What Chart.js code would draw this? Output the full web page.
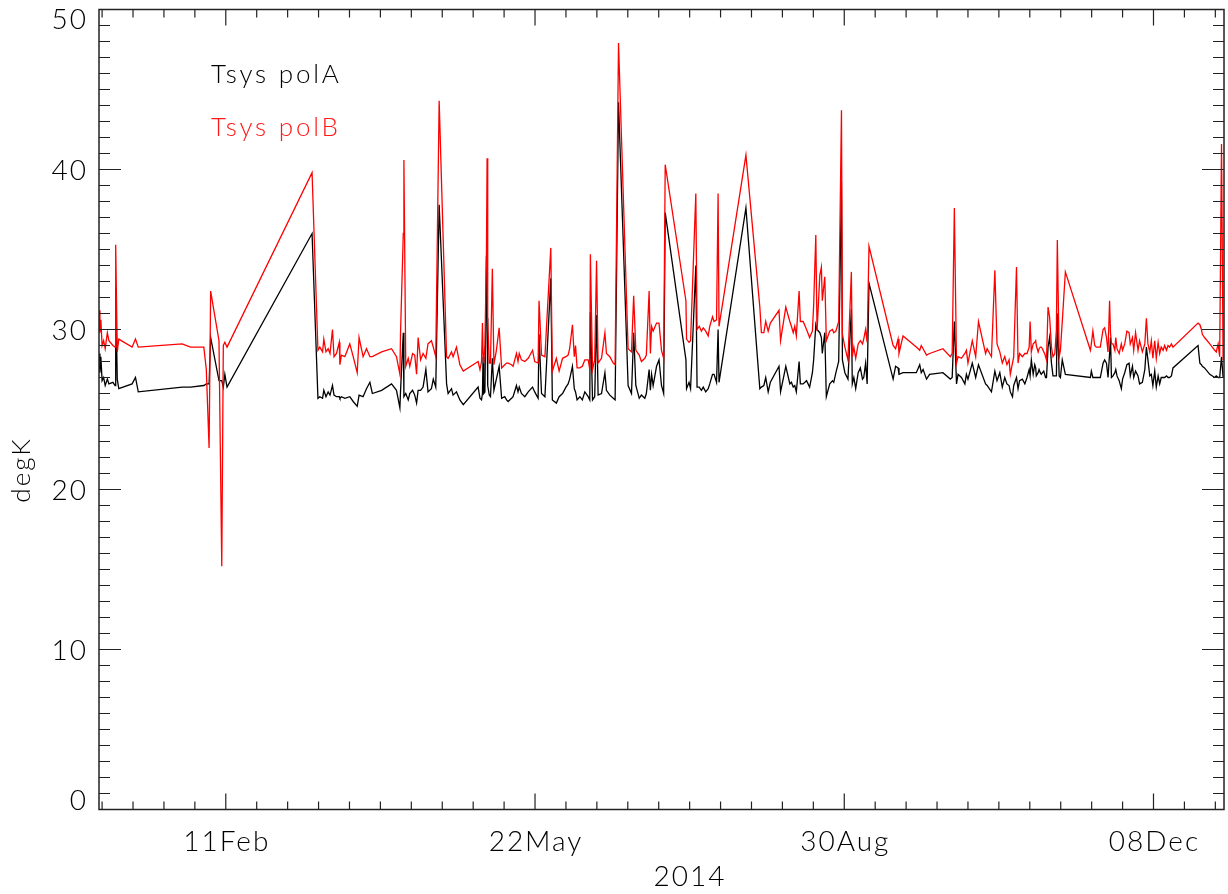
<!DOCTYPE html>
<html>
<head>
<meta charset="utf-8">
<script src="https://cdn.jsdelivr.net/npm/chart.js@4.4.1/dist/chart.umd.min.js"></script>
<style>
  body { margin: 0; background: #fff; }
  #wrap { width: 1228px; height: 894px; }
</style>
</head>
<body>
<div id="wrap"><canvas id="canvas"></canvas></div>
<script>
// day of year 2014 (1 = 01 Jan)
var days = [1.0,1.3,1.6,2.0,2.5,3.0,3.7,4.2,5.5,6.2,6.4,6.9,7.4,11.7,12.8,13.7,27.9,30.6,34.9,35.7,36.6,37.1,39.8,40.7,41.2,41.7,42.4,69.9,71.8,
  72.4,73.3,73.7,74.4,75.1,75.7,76.5,77.0,77.8,78.7,78.9,79.4,80.5,82.1,83.2,84.5,85.1,86.4,87.5,88.6,89.4,92.4,95.6,97.2,98.3,98.5,99.4,99.6,
  100.2,101.0,101.5,102.4,103.1,103.7,104.2,105.0,105.8,106.7,107.4,108.5,109.1,109.9,111.0,113.4,113.9,115.0,115.5,116.6,117.7,118.8,123.6,
  124.2,124.7,125.0,125.2,125.4,125.8,126.3,126.5,126.7,127.2,127.6,128.2,128.7,129.5,130.4,131.2,132.2,132.8,133.3,134.4,134.9,136.0,136.5,136.9,
  137.6,138.7,139.8,141.2,141.9,143.0,143.3,144.1,145.2,147.1,147.6,148.9,149.8,150.9,152.0,152.7,153.2,154.1,154.7,155.1,155.6,156.5,157.3,158.1,
  159.2,159.7,159.9,160.6,161.3,161.9,162.4,163.5,164.6,165.1,166.2,167.3,167.9,169.0,172.1,173.2,173.9,174.6,175.7,176.4,177.5,178.0,178.9,179.3,
  179.7,180.2,181.3,182.1,182.9,183.6,184.1,190.8,191.0,191.8,192.3,194.0,194.4,195.1,195.8,196.4,197.2,198.0,198.5,199.4,199.9,200.7,201.2,201.5,
  210.2,214.7,215.2,216.0,216.6,217.4,218.1,220.9,221.4,223.1,224.4,224.9,225.5,226.0,226.5,227.4,227.8,228.7,229.8,230.8,231.7,232.1,232.8,233.2,
  234.1,234.6,234.9,235.7,236.2,237.3,238.2,238.6,239.3,240.2,241.1,241.4,242.2,243.2,244.3,244.6,245.1,245.7,246.5,247.2,247.9,248.3,248.9,249.4,
  250.0,257.8,258.6,259.4,259.7,261.0,265.3,266.4,266.9,267.5,268.6,269.6,273.9,276.3,276.9,277.6,278.3,278.8,279.9,281.0,281.5,282.0,283.4,284.5,
  285.4,287.7,288.2,289.6,290.7,291.4,292.3,293.1,293.9,294.6,295.3,295.7,296.4,296.8,297.7,298.2,298.7,299.6,300.4,301.1,301.8,302.1,302.5,303.1,
  303.6,303.9,304.1,304.7,305.0,305.4,305.7,306.1,306.5,306.8,307.1,307.4,307.9,308.4,309.0,309.5,310.1,310.6,310.9,311.5,311.9,312.5,313.5,321.6,
  321.9,322.4,323.0,323.5,324.8,325.7,326.2,326.8,327.3,327.8,328.1,328.4,328.9,329.5,329.8,330.2,330.9,331.6,332.0,332.7,333.4,334.1,334.5,335.2,
  335.6,336.2,337.0,337.5,338.4,339.2,339.7,340.2,340.8,341.3,341.8,342.4,342.9,343.5,344.0,344.5,345.1,345.6,346.2,346.7,347.2,347.8,348.3,356.4,
  357.0,357.5,357.8,358.5,360.2,361.8,362.3,362.9,363.4,364.0,364.5];

var polA = [28.5,27.3,28.3,26.8,27.0,26.5,26.9,26.6,26.7,26.5,32.6,26.9,26.3,26.6,27.0,26.1,26.4,26.4,26.5,26.6,26.6,29.5,26.8,26.8,26.4,27.2,26.4,36.0,25.7,
  25.8,25.7,26.2,25.8,26.1,25.9,26.5,25.9,25.8,25.8,25.7,25.8,25.7,25.8,25.5,25.2,25.9,25.8,26.3,26.7,26.0,26.2,26.6,26.2,25.1,26.1,29.8,25.8,
  26.0,25.6,26.0,26.2,25.9,25.4,26.2,26.2,26.4,27.5,26.1,26.3,26.9,26.4,37.8,26.6,26.0,26.3,25.9,26.1,25.6,25.3,26.4,
  25.7,25.6,26.0,28.3,26.0,26.1,34.6,30.7,26.5,25.9,25.8,28.2,26.2,26.9,27.7,25.7,25.8,25.6,25.5,25.7,25.8,26.5,26.1,26.4,
  26.0,25.8,26.1,26.4,26.1,25.7,29.7,26.0,25.8,33.2,25.6,25.4,25.8,26.0,26.4,26.6,26.9,27.7,26.3,26.1,25.6,25.8,25.6,26.1,
  25.8,25.6,31.1,25.6,25.8,30.9,25.9,26.0,27.3,26.2,25.9,25.7,25.6,44.2,26.5,26.0,29.8,26.5,25.7,25.9,25.7,26.0,27.5,26.2,
  27.2,26.5,27.7,28.1,26.5,26.0,37.3,28.1,26.3,26.7,26.3,34.0,26.4,26.4,26.2,26.4,26.1,26.3,26.6,27.2,27.2,26.7,30.0,26.7,
  37.6,26.3,26.4,26.5,27.0,26.1,26.7,27.7,26.1,27.7,26.6,26.7,26.4,26.5,26.1,28.0,26.6,26.6,26.8,26.4,27.3,28.1,30.3,30.0,
  29.8,29.5,28.5,29.8,25.8,26.6,26.8,26.7,27.3,28.0,39.2,28.1,27.3,26.9,31.3,26.6,27.0,26.3,27.3,27.6,26.9,27.0,27.9,26.6,
  32.9,26.9,27.7,27.6,27.2,27.3,27.3,27.8,27.3,27.5,26.9,27.2,27.3,26.9,27.0,30.5,26.6,27.2,27.0,26.6,27.2,26.9,27.9,27.0,
  27.8,26.6,26.5,26.1,27.4,26.8,27.3,26.4,27.0,26.6,26.5,26.1,25.8,26.5,27.0,26.3,26.8,26.9,26.6,27.0,27.5,27.1,28.1,27.2,
  27.8,27.6,27.1,27.3,27.5,27.3,27.2,27.3,27.4,27.2,27.0,27.0,28.9,29.5,27.9,27.1,27.1,27.1,31.0,27.1,27.0,28.1,27.2,27.0,
  27.4,27.0,27.0,27.0,27.0,27.9,28.1,27.9,27.0,28.5,29.5,27.0,27.1,27.3,27.5,27.1,26.8,26.3,26.9,27.3,27.8,27.9,27.1,27.7,
  27.0,27.4,27.1,26.6,26.7,27.5,28.9,28.1,27.1,27.2,26.5,27.4,26.4,27.1,26.6,27.0,27.0,27.0,27.1,27.0,27.0,27.1,27.6,29.0,
  27.9,27.8,27.7,27.6,27.2,27.0,27.1,27.0,27.0,28.3,27.0];

var polB = [31.2,29.8,30.6,29.0,29.3,28.8,29.8,29.3,29.0,28.9,35.3,28.6,29.4,28.9,29.4,28.9,29.1,28.9,28.9,27.5,22.6,32.4,29.3,15.2,29.0,29.2,28.9,39.8,28.7,
  28.9,28.6,29.4,28.6,28.8,28.5,30.0,28.3,28.5,29.2,27.8,28.4,28.3,29.1,28.3,27.3,29.5,28.3,28.8,28.3,28.3,28.6,28.8,28.3,27.2,29.7,36.0,40.6,
  27.7,28.2,27.7,28.5,28.4,27.2,29.5,28.1,28.5,28.2,29.1,29.3,28.9,28.3,44.3,28.3,28.2,28.6,28.3,28.9,27.8,27.4,28.0,
  27.5,28.0,30.4,28.5,27.9,29.0,35.0,40.7,30.5,27.9,27.9,33.8,27.8,28.7,30.1,27.6,27.8,27.9,27.9,27.8,27.7,28.5,28.0,28.5,
  28.1,28.0,28.2,28.7,28.0,27.9,31.8,28.4,28.3,35.1,27.4,28.2,27.4,28.2,28.3,28.4,28.8,30.3,28.3,29.0,27.6,27.6,27.7,28.1,
  28.1,27.5,34.7,27.5,28.1,34.3,27.9,28.2,29.8,28.5,28.3,27.9,27.8,47.9,28.8,28.6,32.1,28.7,28.4,28.0,28.2,28.4,32.4,28.5,
  30.2,29.9,30.4,30.4,28.7,28.2,40.3,31.8,29.4,29.2,29.3,38.5,30.0,30.2,29.9,30.1,29.9,29.6,30.2,30.8,30.5,30.6,38.5,30.2,
  40.9,31.4,29.8,29.8,30.5,29.9,30.4,31.2,29.3,31.4,30.5,30.2,29.8,30.2,29.6,32.4,30.5,30.5,30.0,29.5,29.9,31.5,35.9,29.9,
  33.4,33.9,31.8,33.3,29.3,29.9,30.0,29.8,29.9,30.5,43.7,29.7,28.9,28.1,33.6,28.3,28.9,28.2,29.1,29.3,29.1,29.4,30.0,29.2,
  35.2,29.0,28.8,29.4,28.5,29.6,28.9,28.7,29.0,28.8,28.4,28.5,28.8,28.3,28.5,37.6,27.9,28.3,28.2,28.5,28.7,27.9,29.3,28.3,
  30.5,28.5,28.8,28.3,33.7,29.1,28.6,27.9,28.3,27.8,28.1,27.2,27.9,28.3,33.9,27.9,28.5,28.3,28.5,28.5,28.9,30.5,28.6,29.1,
  29.2,29.3,29.0,28.6,28.8,28.9,28.9,28.8,28.6,28.5,28.3,28.1,31.4,30.8,28.9,28.3,28.5,30.0,35.6,28.3,28.7,30.5,33.6,28.7,
  29.1,29.9,29.0,28.9,28.9,30.0,30.1,29.5,28.6,31.8,29.8,29.1,29.1,28.7,29.5,28.8,28.5,29.1,28.7,29.1,29.9,29.8,29.1,29.5,
  28.7,29.8,28.7,29.3,28.6,29.1,30.7,29.1,28.6,29.3,28.2,29.3,28.2,29.2,28.5,28.9,28.7,29.0,28.7,29.0,28.9,29.1,28.9,30.4,
  30.3,30.0,29.7,29.5,29.1,28.7,28.6,29.1,28.3,41.6,28.1];

var seriesNames = ['Tsys polA', 'Tsys polB'];
var xRange = [1.0, 364.8];
var xMajorDays = [42, 142, 242, 342];
var xMajorLabels = ['11Feb', '22May', '30Aug', '08Dec'];
var xMinorStep = 10;
var yTicks = [0, 10, 20, 30, 40, 50];
var xTitle = '2014';
var yTitle = 'degK';

var FONT = 'Lato, "Open Sans", Roboto, sans-serif';

function pts(vals) {
  return days.map(function (d, i) { return { x: d, y: vals[i] }; });
}

function label(ctx, text, x, y, size, spacing) {
  ctx.font = '300 ' + size + 'px ' + FONT;
  ctx.letterSpacing = spacing + 'px';
  ctx.fillText(text, x, y);
}

// IDL-like frame: inward ticks on all four sides, labels drawn by hand
var idlAxes = {
  id: 'idlAxes',
  afterDraw: function (chart) {
    var ctx = chart.ctx, a = chart.chartArea, xs = chart.scales.x, ys = chart.scales.y;
    ctx.save();
    ctx.strokeStyle = '#222';
    ctx.lineWidth = 1.5;
    ctx.strokeRect(a.left, a.top, a.right - a.left, a.bottom - a.top);

    ctx.lineWidth = 1.2;
    ctx.beginPath();
    for (var v = yTicks[0]; v <= yTicks[yTicks.length - 1]; v++) {
      var y = ys.getPixelForValue(v);
      var len = (v % 10 === 0) ? 22 : 11;
      ctx.moveTo(a.left, y); ctx.lineTo(a.left + len, y);
      ctx.moveTo(a.right, y); ctx.lineTo(a.right - len, y);
    }
    for (var d = xMajorDays[0] % xMinorStep; d <= xRange[1]; d += xMinorStep) {
      if (d < xRange[0]) continue;
      var x = xs.getPixelForValue(d);
      var l2 = (xMajorDays.indexOf(d) >= 0) ? 16 : 8;
      ctx.moveTo(x, a.bottom); ctx.lineTo(x, a.bottom - l2);
      ctx.moveTo(x, a.top); ctx.lineTo(x, a.top + l2);
    }
    ctx.stroke();

    ctx.fillStyle = '#000';
    ctx.textAlign = 'right';
    ctx.textBaseline = 'middle';
    yTicks.forEach(function (t) {
      var y = ys.getPixelForValue(t) + 1;
      y = Math.max(a.top + 10, Math.min(a.bottom - 9, y));
      label(ctx, String(t), a.left - 11, y, 28, 2);
    });

    ctx.textAlign = 'center';
    ctx.textBaseline = 'alphabetic';
    xMajorDays.forEach(function (d, i) {
      label(ctx, xMajorLabels[i], xs.getPixelForValue(d) + 1, a.bottom + 41, 28, 2);
    });
    label(ctx, xTitle, 690, a.bottom + 76, 28, 2);

    ctx.save();
    ctx.translate(22, 470);
    ctx.rotate(-Math.PI / 2);
    ctx.textBaseline = 'middle';
    label(ctx, yTitle, 0, 0, 26, 2);
    ctx.restore();

    ctx.textAlign = 'left';
    ctx.fillStyle = '#000';
    label(ctx, seriesNames[0], 211, 83, 26, 2.8);
    ctx.fillStyle = '#ff1a1a';
    label(ctx, seriesNames[1], 211, 136, 26, 2.8);
    ctx.restore();
  }
};

var config = {
  type: 'line',
  data: {
    datasets: [{
      label: seriesNames[1],
      data: pts(polB),
      borderColor: '#ff0000',
      borderWidth: 1.3,
      pointRadius: 0,
      tension: 0,
      order: 0
    }, {
      label: seriesNames[0],
      data: pts(polA),
      borderColor: '#000000',
      borderWidth: 1.3,
      pointRadius: 0,
      tension: 0,
      order: 1
    }]
  },
  options: {
    responsive: true,
    maintainAspectRatio: false,
    animation: false,
    layout: { padding: { left: 99, top: 9.5, right: 4, bottom: 84.5 } },
    plugins: { legend: { display: false }, tooltip: { enabled: false } },
    scales: {
      x: { type: 'linear', min: xRange[0], max: xRange[1], display: false },
      y: { type: 'linear', min: yTicks[0], max: yTicks[yTicks.length - 1], display: false }
    }
  },
  plugins: [idlAxes]
};

window.onload = function () {
  window.tsysChart = new Chart(document.getElementById('canvas'), config);
};
</script>
</body>
</html>
